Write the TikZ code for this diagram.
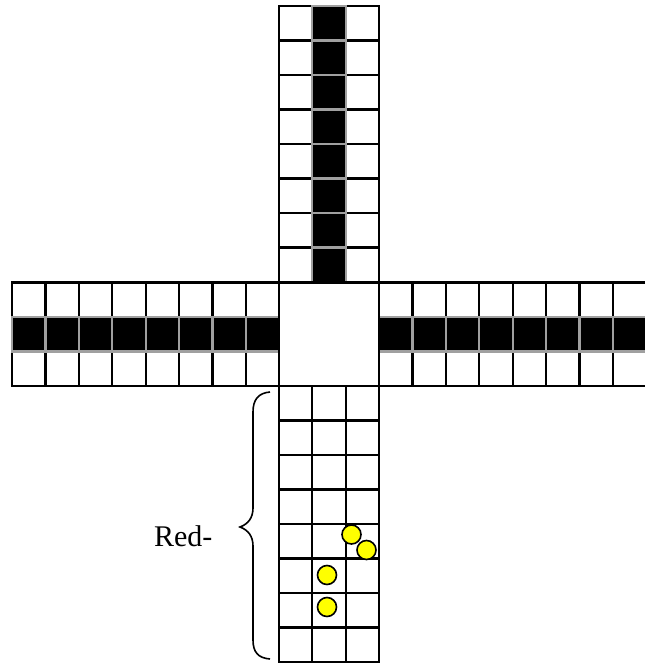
\documentclass[tikz,border=0pt]{standalone}
\usepackage{fontspec}
\setmainfont{Liberation Serif}
\definecolor{cellgray}{HTML}{A0A0A0}
\definecolor{chip}{HTML}{FFFF00}
\begin{document}
\begin{tikzpicture}[x=1pt,y=-1pt,line width=2.2pt,
  whitecell/.style={draw=black,fill=white},
  blackcell/.style={draw=cellgray,fill=black},
  chipdot/.style={circle,draw=black,fill=chip,line width=1.6pt,minimum size=19pt,inner sep=0pt},
  bracepath/.style={draw=black,line width=1.6pt}]
\useasboundingbox (0,0) rectangle (645,664);
\clip (0,0) rectangle (645,664);
\fill[white] (0,0) rectangle (645,664);
% top arm
\foreach \i in {0,...,7}{
  \foreach \j in {0,2}{
    \draw[whitecell] ({279+\j*33.33},{6+\i*34.5}) rectangle ++(33.33,34.5);
  }
}
\foreach \i in {0,...,7}{
  \draw[blackcell] ({279+33.33},{6+\i*34.5}) rectangle ++(33.33,34.5);
}
% bottom arm
\foreach \i in {0,...,7}{
  \foreach \j in {0,1,2}{
    \draw[whitecell] ({279+\j*33.33},{386+\i*34.5}) rectangle ++(33.33,34.5);
  }
}
% left arm
\foreach \k in {0,...,7}{
  \draw[whitecell] ({12+\k*33.4},282.5) rectangle ++(33.4,34.5);
  \draw[whitecell] ({12+\k*33.4},351.5) rectangle ++(33.4,34.5);
}
\foreach \k in {0,...,7}{
  \draw[blackcell] ({12+\k*33.4},317) rectangle ++(33.4,34.5);
}
% right arm
\foreach \k in {0,...,7}{
  \draw[whitecell] ({379+\k*33.4},282.5) rectangle ++(33.4,34.5);
  \draw[whitecell] ({379+\k*33.4},351.5) rectangle ++(33.4,34.5);
}
\foreach \k in {0,...,7}{
  \draw[blackcell] ({379+\k*33.4},317) rectangle ++(33.4,34.5);
}
% centre square
\draw[whitecell] (279,282.5) rectangle (379,386);
% chips
\node[chipdot] (c1) at (351.5,534.5) {};
\node[chipdot] (c2) at (366.5,550) {};
\node[chipdot] (c3) at (327,575) {};
\node[chipdot] (c4) at (327,607) {};
% brace
\draw[bracepath] (270,392) .. controls (258,393) and (253,400) .. (253,412)
  -- (253,508) .. controls (253,518) and (248,524) .. (240,527)
  .. controls (248,530) and (253,536) .. (253,546)
  -- (253,640) .. controls (253,652) and (258,658) .. (270,659);
\node[anchor=base west,inner sep=0pt,font=\fontsize{30}{32}\selectfont] (red) at (153,546) {Red-};
\end{tikzpicture}
\end{document}
